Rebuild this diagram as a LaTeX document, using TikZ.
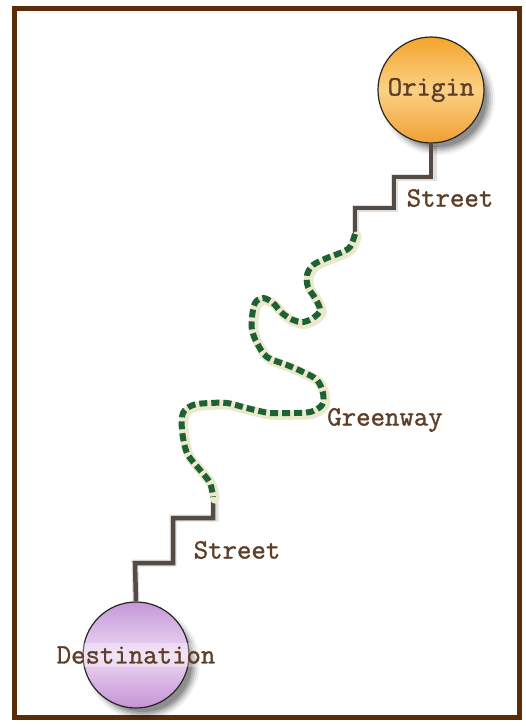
\documentclass[tikz,border=0pt]{standalone}
\usepackage{fontspec}
\newfontfamily\twfont{Latin Modern Mono}[FakeBold=1.2]
\usetikzlibrary{shapes.geometric}
\definecolor{framebrown}{HTML}{5A2C0C}
\definecolor{textbrown}{HTML}{5E3E26}
\definecolor{streetgray}{HTML}{564A44}
\definecolor{greendash}{HTML}{1D6134}
\definecolor{glow}{HTML}{ECE8CC}
\definecolor{orTop}{HTML}{F4A42C}
\definecolor{orMid}{HTML}{FBD185}
\definecolor{orBot}{HTML}{F0A033}
\definecolor{puTop}{HTML}{C497D8}
\definecolor{puMid}{HTML}{EDD9F4}
\definecolor{puBot}{HTML}{C393D5}
\tikzset{
  ball/.style={circle, minimum size=106pt, inner sep=0pt, draw=black!85, line width=1.2pt},
  lbl/.style={text=textbrown, font=\twfont\fontsize{28}{30}\selectfont, inner sep=0pt},
  street/.style={draw=streetgray, line width=4.5pt, line join=miter},
  streetshadow/.style={draw=black, opacity=0.12, line width=7pt},
  greenglow/.style={draw=glow, line width=9.5pt, line cap=round, line join=round},
  greenway/.style={draw=greendash, line width=6pt, dash pattern=on 8pt off 4pt}
}
\begin{document}
\begin{tikzpicture}[x=1pt,y=-1pt]
\useasboundingbox (0,0) rectangle (526,726);
\fill[white] (0,0) rectangle (526,726);
\draw[framebrown, line width=5pt] (14.5,8.5) rectangle (519.5,717.5);

% ball shadows
\foreach \r/\o in {57/0.05,55/0.08,53/0.11,51/0.14,49/0.16}{
  \fill[black, opacity=\o] (438,98) circle (\r);
  \fill[black, opacity=\o] (143,663) circle (\r);
}

% street coordinates
\coordinate (s1a) at (429,177);
\coordinate (s1b) at (394,177);
\coordinate (s1c) at (394,208);
\coordinate (s1d) at (355,208);
\coordinate (g0) at (355,236);
\coordinate (g1) at (213,497);
\coordinate (s2a) at (213,518);
\coordinate (s2b) at (173,518);
\coordinate (s2c) at (173,563);
\coordinate (s2d) at (135,563);

% balls
\node[ball, top color=orTop, bottom color=orBot, middle color=orMid] (origin) at (431,90) {};
\node[ball, top color=puTop, bottom color=puBot, middle color=puMid] (dest) at (136,655) {};

% streets
\draw[streetshadow] ([xshift=2pt,yshift=-2pt]origin.south) |- (s1b) |- (s1d) -- (g0);
\draw[street] (origin.south) |- (s1b) |- (s1d) -- (g0);
\draw[streetshadow] ([xshift=2pt]g1) |- (s2b) |- (s2d) -- (dest.north);
\draw[street] (g1) |- (s2b) |- (s2d) -- (dest.north);

% greenway
\def\gpath{plot[smooth, tension=0.55] coordinates {(355,234) (350,247) (340,253) (327,258) (313,265) (307,275) (308,287) (315,298) (320,310) (313,318) (303,322) (293,320) (282,313) (273,303) (263,298) (255,303) (252,317) (252,330) (257,343) (267,357) (287,365) (303,372) (317,380) (323,393) (322,405) (310,412) (290,413) (270,413) (255,410) (243,407) (227,403) (210,403) (193,405) (183,413) (182,430) (187,453) (200,470) (210,483) (213,497)}}
\draw[greenglow, shift={(2,2)}] \gpath;
\draw[greenway] \gpath;

% labels
\node[lbl] (lorigin) at (origin) {Origin};
\node[lbl, fill=white, fill opacity=0.3, text opacity=1, inner ysep=3pt] (ldest) at (dest) {Destination};
\node[lbl] (lstreet1) at (450,198) {Street};
\node[lbl] (lgreen) at (385,420) {Greenway};
\node[lbl] (lstreet2) at (237,550) {Street};
\end{tikzpicture}
\end{document}
